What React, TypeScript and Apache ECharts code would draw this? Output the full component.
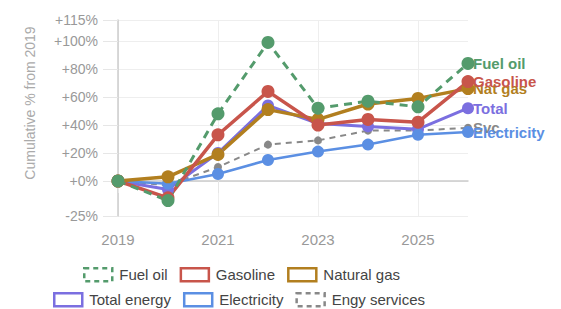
import React, { useEffect, useRef } from "react";
import * as echarts from "echarts";

const years = ["2019", "2020", "2021", "2022", "2023", "2024", "2025", "2026"];
const yTicks = [-25, 0, 20, 40, 60, 80, 100, 115];

const fuelOil = [0, -14, 48, 99, 52, 57, 53, 84];
const gasoline = [0, -12, 33, 64, 40, 44, 42, 71];
const naturalGas = [0, 3, 19, 51, 44, 55, 59, 66];
const totalEnergy = [0, -6, 20, 54, 41, 39, 37, 52];
const electricity = [0, -2, 5, 15, 21, 26, 33, 35];
const engyServices = [0, -3, 10, 26, 29, 36, 36, 38];

const seriesDefs = [
  { name: "Engy services", label: "Svc", data: engyServices, color: "#888888", width: 2, dash: [6, 5], size: 8 },
  { name: "Total energy", label: "Total", data: totalEnergy, color: "#7b6fe0", width: 3, dash: null, size: 12 },
  { name: "Electricity", label: "Electricity", data: electricity, color: "#5b8fe3", width: 2.5, dash: null, size: 12 },
  { name: "Natural gas", label: "Nat gas", data: naturalGas, color: "#b27f1f", width: 3.5, dash: null, size: 13 },
  { name: "Gasoline", label: "Gasoline", data: gasoline, color: "#c8554b", width: 3.5, dash: null, size: 13 },
  { name: "Fuel oil", label: "Fuel oil", data: fuelOil, color: "#549b6c", width: 3, dash: [8, 6], size: 13 },
];

const legendRow1 = ["Fuel oil", "Gasoline", "Natural gas"];
const legendRow2 = ["Total energy", "Electricity", "Engy services"];

function legendItems(names: string[]) {
  return names.map((n) => {
    const s = seriesDefs.find((d) => d.name === n)!;
    return {
      name: n,
      icon: "rect",
      itemStyle: {
        color: "transparent",
        borderColor: s.color,
        borderWidth: 2.5,
        borderType: s.dash ? [5, 4] : "solid",
      },
    };
  });
}

export default function App() {
  const ref = useRef<HTMLDivElement>(null);
  useEffect(() => {
    if (!ref.current) return;
    const chart = echarts.init(ref.current, null, { renderer: "svg" });
    const legendBase = {
      orient: "horizontal",
      itemWidth: 28,
      itemHeight: 13,
      itemGap: 12,
      padding: 0,
      textStyle: { fontSize: 15, color: "#444", fontFamily: "Liberation Sans, Arial, sans-serif", padding: [0, 0, 0, 2] },
      selectedMode: false,
    };
    chart.setOption({
      animation: false,
      textStyle: { fontFamily: "Liberation Sans, Arial, sans-serif" },
      grid: { left: 118, right: 93, top: 20, bottom: 93, containLabel: false },
      legend: [
        { ...legendBase, left: 83, top: 267, data: legendItems(legendRow1) },
        { ...legendBase, left: 53, top: 292, data: legendItems(legendRow2) },
      ],
      graphic: [
        {
          type: "text",
          x: 30,
          y: 103,
          rotation: Math.PI / 2,
          style: {
            text: "Cumulative % from 2019",
            fill: "#aaaaaa",
            fontSize: 14,
            fontFamily: "Liberation Sans, Arial, sans-serif",
            align: "center",
            verticalAlign: "middle",
          },
        },
      ],
      xAxis: {
        type: "category",
        data: years,
        boundaryGap: false,
        axisLine: { show: true, lineStyle: { color: "#cccccc", width: 1.5 } },
        axisTick: { show: true, interval: 1, length: 12, lineStyle: { color: "#e6e6e6" } },
        axisLabel: { interval: 1, color: "#999999", fontSize: 15, margin: 16 },
        splitLine: { show: true, interval: 1, lineStyle: { color: "#eeeeee" } },
      },
      yAxis: {
        type: "value",
        min: -25,
        max: 115,
        axisLine: { show: true, lineStyle: { color: "#cccccc", width: 1.5 } },
        axisTick: { show: true, length: 15, customValues: yTicks, lineStyle: { color: "#e6e6e6" } },
        axisLabel: {
          customValues: yTicks,
          color: "#999999",
          fontSize: 14,
          margin: 20,
          formatter: (v: number) => (v >= 0 ? "+" : "") + v + "%",
        },
        splitLine: { show: true, lineStyle: { color: "#eeeeee" } },
      },
      series: seriesDefs.map((s) => ({
        name: s.name,
        type: "line",
        data: s.data,
        symbol: "circle",
        symbolSize: s.size,
        showSymbol: true,
        itemStyle: { color: s.color },
        lineStyle: { color: s.color, width: s.width, type: s.dash ? s.dash : "solid" },
        endLabel: {
          show: true,
          formatter: s.label,
          color: s.color,
          fontWeight: "bold",
          fontSize: 15,
          distance: 5,
        },
        emphasis: { disabled: true },
      })),
    });
    return () => chart.dispose();
  }, []);
  return (
    <div
      ref={ref}
      style={{ position: "absolute", left: 0, top: 0, width: 561, height: 309 }}
    />
  );
}
